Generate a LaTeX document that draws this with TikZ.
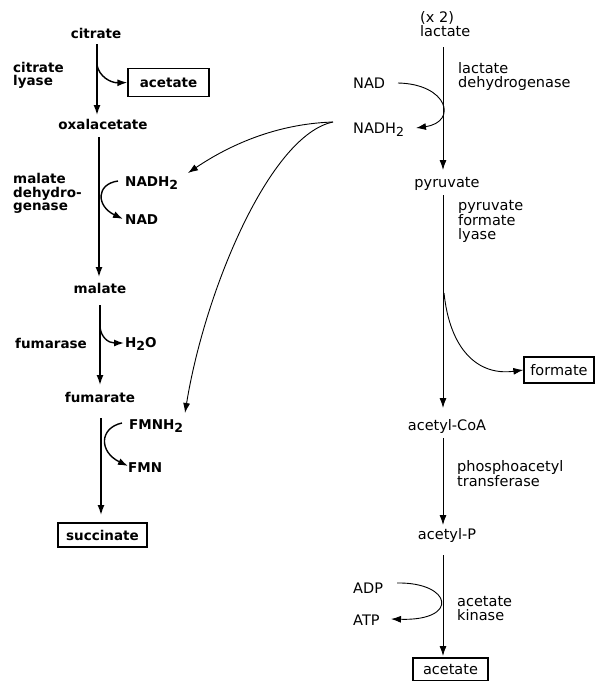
\documentclass[tikz,border=0pt]{standalone}
\usepackage{fontspec}
\setmainfont{DejaVu Sans}
\usetikzlibrary{arrows.meta}
\newcommand{\subtwo}{\raisebox{-0.45ex}{\fontsize{12.5}{12.5}\selectfont 2}}
\begin{document}
\begin{tikzpicture}[x=1pt,y=-1pt,
  lft/.style={font=\fontsize{13.5}{13.5}\selectfont\bfseries, inner sep=0pt},
  rgt/.style={font=\fontsize{14.5}{14}\selectfont, inner sep=0pt},
  boxed/.style={draw, line width=1.3pt, inner sep=0pt},
  arr/.style={-{Latex[length=10pt,width=7pt]}, line width=1.4pt},
  arrR/.style={-{Latex[length=10pt,width=7pt]}, line width=0.9pt}
]
\useasboundingbox (0,0) rectangle (596,681);

% ---------- left column ----------
\node[lft, anchor=base] (citrate) at (96,38) {citrate};
\node[lft, align=left, anchor=west] (lyase) at (13,75.5) {citrate\\lyase};
\node[lft, boxed, minimum width=81pt, minimum height=28pt] (acetL) at (168.5,82.5) {acetate};
\node[lft, anchor=base] (oxal) at (103,129.5) {oxalacetate};
\node[lft, align=left, anchor=west] (mdh) at (13,193.5) {malate\\dehydro-\\genase};
\node[lft, anchor=base west] (nadhL) at (125,186) {NADH\subtwo};
\node[lft, anchor=base west] (nadL) at (125,224) {NAD};
\node[lft, anchor=base] (malate) at (100,293) {malate};
\node[lft, anchor=west] (fumarase) at (15,343) {fumarase};
\node[lft, anchor=base west] (h2o) at (125,347.5) {H\subtwo O};
\node[lft, anchor=base] (fumarate) at (100,402) {fumarate};
\node[lft, anchor=base west] (fmnh) at (129,429.5) {FMNH\subtwo};
\node[lft, anchor=base west] (fmn) at (128,472) {FMN};
\node[lft, boxed, minimum width=89pt, minimum height=24pt] (succ) at (102.5,535) {succinate};

\coordinate (a1) at (97,44);  \coordinate (a2) at (97,115);
\coordinate (b1) at (99,137); \coordinate (b2) at (99,277);
\coordinate (c1) at (100,305); \coordinate (c2) at (100,385);
\coordinate (d1) at (101,418); \coordinate (d2) at (101,515);
\draw[arr] (a1) -- (a2);
\draw[arr] (b1) -- (b2);
\draw[arr] (c1) -- (c2);
\draw[arr] (d1) -- (d2);

\coordinate (ac0) at (97,65);
\draw[arr] (ac0) .. controls (99,76) and (110,83) .. (acetL.west);
\coordinate (n0) at (118,181); \coordinate (n1) at (123,219);
\draw[arr] (n0) .. controls (96,184) and (96,206) .. (n1);
\coordinate (h0) at (100,327); \coordinate (h1) at (124,343);
\draw[arr] (h0) .. controls (101,337) and (108,343) .. (h1);
\coordinate (f0) at (122,423); \coordinate (f1) at (128,466);
\draw[arr] (f0) .. controls (99,428) and (99,452) .. (f1);

% ---------- right column ----------
\node[rgt, align=left, anchor=west] (lact) at (420,24) {(x 2)\\lactate};
\node[rgt, align=left, anchor=west] (ldh) at (458,76.5) {lactate\\dehydrogenase};
\node[rgt, anchor=base west] (nadR) at (353,88) {NAD};
\node[rgt, anchor=base west] (nadhR) at (353,133) {NADH\subtwo};
\node[rgt, anchor=base] (pyr) at (447,187) {pyruvate};
\node[rgt, align=left, anchor=west] (pfl) at (458,221) {pyruvate\\formate\\lyase};
\node[rgt, boxed, minimum width=70pt, minimum height=26pt] (form) at (559,370) {formate};
\node[rgt, anchor=base] (acoa) at (447,430) {acetyl-CoA};
\node[rgt, align=left, anchor=west] (pta) at (457,474) {phosphoacetyl\\transferase};
\node[rgt, anchor=base] (acp) at (447,539) {acetyl-P};
\node[rgt, anchor=base west] (adp) at (353,593) {ADP};
\node[rgt, anchor=base west] (atp) at (353,625) {ATP};
\node[rgt, align=left, anchor=west] (ak) at (457,608.5) {acetate\\kinase};
\node[rgt, boxed, minimum width=75pt, minimum height=23pt] (acetR) at (450.5,669.5) {acetate};

\coordinate (e1) at (443,47);  \coordinate (e2) at (443,170);
\coordinate (g1) at (443,195); \coordinate (g2) at (443,408);
\coordinate (k1) at (443,438); \coordinate (k2) at (443,525);
\coordinate (m1) at (443,555); \coordinate (m2) at (443,656);
\draw[arrR] (e1) -- (e2);
\draw[arrR] (g1) -- (g2);
\draw[arrR] (k1) -- (k2);
\draw[arrR] (m1) -- (m2);

\coordinate (r0) at (398,83); \coordinate (r1) at (416,128);
\draw[arrR] (r0) .. controls (448,84) and (458,122) .. (r1);
\coordinate (p0) at (397,583); \coordinate (p1) at (391,619);
\draw[arrR] (p0) .. controls (452,582) and (460,621) .. (p1);
\coordinate (fo0) at (444,293);
\draw[arrR] (fo0) .. controls (450,350) and (478,376) .. (form.west);

% ---------- NADH2 transfer ----------
\coordinate (s0) at (333,122);
\coordinate (t1) at (188,173);
\coordinate (t2) at (185,413);
\draw[arrR] (s0) .. controls (270,124) and (222,150) .. (t1);
\draw[arrR] (s0) .. controls (270,135) and (205,290) .. (t2);
\end{tikzpicture}
\end{document}
